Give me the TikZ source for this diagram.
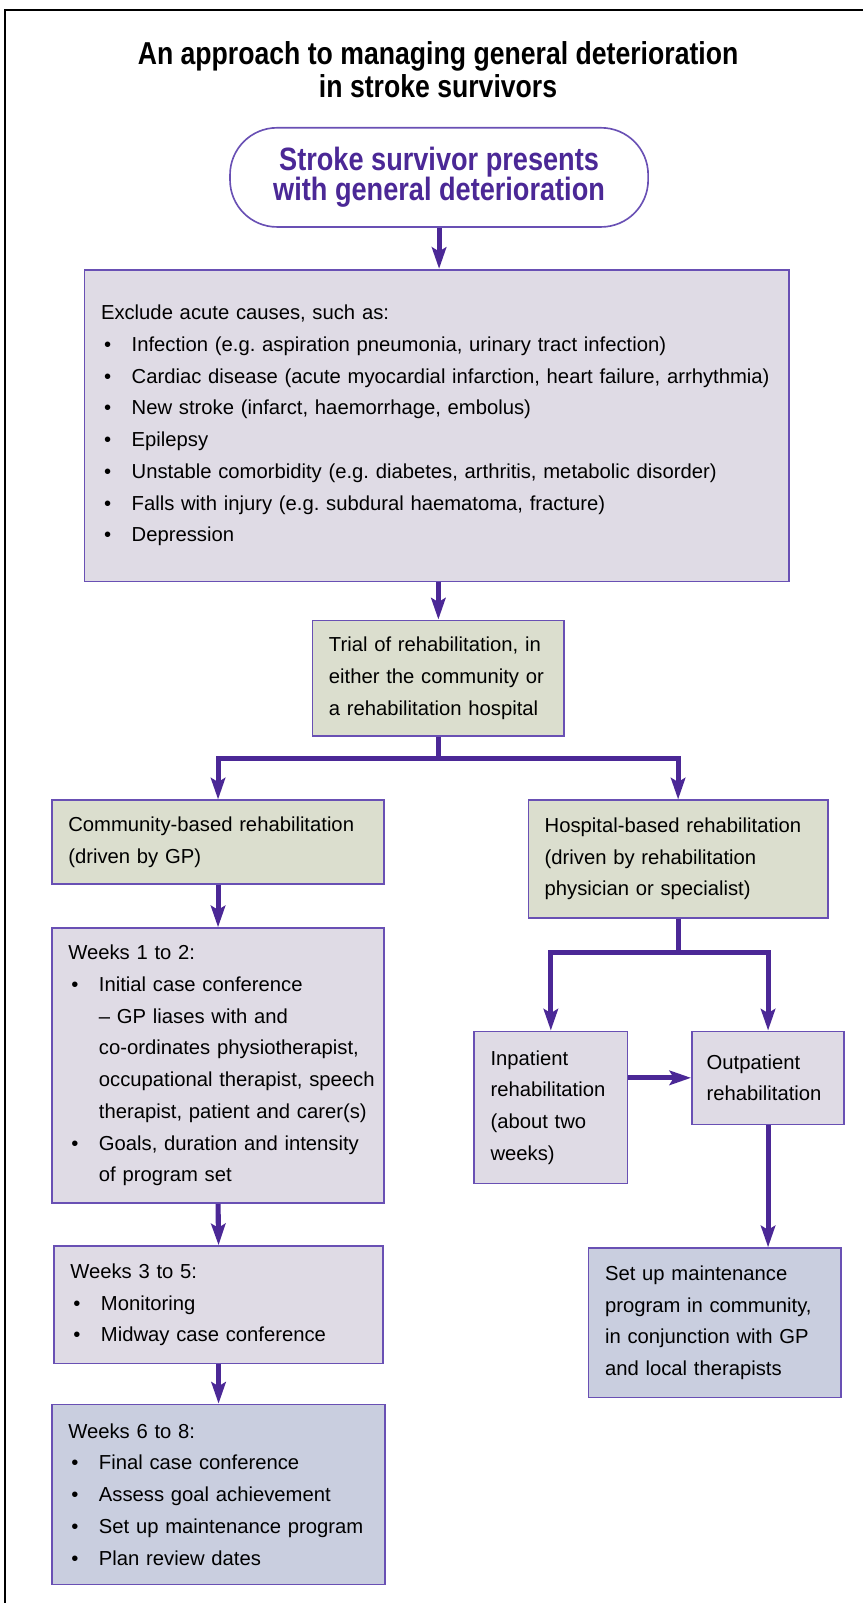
\documentclass[tikz,border=0pt]{standalone}
\usepackage{fontspec}
\setmainfont{Liberation Sans}
\newfontfamily\headfont[FakeStretch=0.84]{Liberation Sans}
\usetikzlibrary{arrows.meta}
\definecolor{purp}{RGB}{75,40,150}
\definecolor{edgepurp}{RGB}{105,80,180}
\definecolor{lilacfill}{RGB}{223,219,229}
\definecolor{sagefill}{RGB}{219,222,206}
\definecolor{slatefill}{RGB}{201,206,223}
\newcommand{\bul}{\makebox[15pt][l]{\hspace{1.5pt}\textbullet}}
\newcommand{\ind}{\hspace*{15pt}}

\begin{document}
\frenchspacing
\begin{tikzpicture}[x=0.5pt, y=-0.5pt, line join=miter,
	font=\fontsize{9.9}{15.5}\selectfont,
	box/.style={draw=edgepurp, line width=0.8pt, anchor=north west, align=left,
		inner xsep=8pt, inner ysep=0pt},
	lilac/.style={box, fill=lilacfill},
	sage/.style={box, fill=sagefill},
	slate/.style={box, fill=slatefill},
	flow/.style={draw=purp, line width=2.5pt,
		-{Stealth[length=10.5pt, width=7pt, inset=2pt]}},
	flowbar/.style={draw=purp, line width=2.5pt}]
\useasboundingbox (0,0) rectangle (844,1568);
% frame
\draw[line width=0.8pt] (844,10) -- (5,10) -- (5,1568);

%========================
% Heading and start
%========================
\node[font=\headfont\bfseries\fontsize{15.5}{16}\selectfont, align=center] (head) at (428.5,68)
	{An approach to managing general deterioration\\in stroke survivors};
\node[draw=edgepurp, line width=0.8pt, rounded corners=23pt, text=purp, align=center,
	minimum width=204.5pt, minimum height=48.5pt, inner sep=0pt,
	font=\headfont\bfseries\fontsize{15.8}{15}\selectfont] (start) at (429.5,173.5)
	{Stroke survivor presents\\with general deterioration};

% acute causes
\node[lilac, minimum width=344.5pt, minimum height=152.5pt, text width=328.5pt] (exclude) at (82,263)
	{Exclude acute causes, such as:\\
	\bul Infection (e.g. aspiration pneumonia, urinary tract infection)\\
	\bul Cardiac disease (acute myocardial infarction, heart failure, arrhythmia)\\
	\bul New stroke (infarct, haemorrhage, embolus)\\
	\bul Epilepsy\\
	\bul Unstable comorbidity (e.g. diabetes, arthritis, metabolic disorder)\\
	\bul Falls with injury (e.g. subdural haematoma, fracture)\\
	\bul Depression};

\node[sage, minimum width=123pt, minimum height=56.5pt, text width=107pt] (trial) at (305,606)
	{Trial of rehabilitation, in\\either the community or\\a rehabilitation hospital};

%========================
% Left: community branch
%========================
\node[sage, minimum width=162.5pt, minimum height=41pt, text width=146.5pt] (community) at (50,782)
	{Community-based rehabilitation\\(driven by GP)};
\node[lilac, minimum width=162.5pt, minimum height=134.5pt, text width=146.5pt] (wkone) at (50,907)
	{Weeks 1 to 2:\\
	\bul Initial case conference\\
	\ind -- GP liases with and\\
	\ind co-ordinates physiotherapist,\\
	\ind\mbox{occupational therapist, speech}\\
	\ind therapist, patient and carer(s)\\
	\bul Goals, duration and intensity\\
	\ind of program set};
\node[lilac, minimum width=161pt, minimum height=57.5pt, text width=145pt] (wkthree) at (52,1218)
	{Weeks 3 to 5:\\
	\bul Monitoring\\
	\bul Midway case conference};
\node[slate, minimum width=163pt, minimum height=88pt, text width=147pt] (wksix) at (50,1373)
	{Weeks 6 to 8:\\
	\bul Final case conference\\
	\bul Assess goal achievement\\
	\bul Set up maintenance program\\
	\bul Plan review dates};

%========================
% Right: hospital branch
%========================
\node[sage, minimum width=146.5pt, minimum height=57.5pt, text width=130.5pt] (hospital) at (516,782)
	{Hospital-based rehabilitation\\(driven by rehabilitation\\physician or specialist)};
\node[lilac, minimum width=75pt, minimum height=74.5pt, text width=59pt] (inpat) at (463,1008)
	{Inpatient\\rehabilitation\\(about two\\weeks)};
\node[lilac, minimum width=74.5pt, minimum height=45.5pt, text width=60pt, inner xsep=7pt] (outpat) at (676,1008)
	{Outpatient\\rehabilitation};
\node[slate, minimum width=123.5pt, minimum height=73pt, text width=107.5pt] (maint) at (575,1220)
	{Set up maintenance\\program in community,\\in conjunction with GP\\and local therapists};

%========================
% connectors
%========================
\draw[flow] (start.south) -- (start.south |- exclude.north);
\draw[flow] (exclude.south -| trial.north) -- (trial.north);
% split to the two settings
\draw[flowbar] (trial.south) -- ++(0,21) coordinate (split);
\draw[flow] (split) -| (community.north);
\draw[flow] (split) -| (hospital.north);
% community weeks
\draw[flow] (community.south) -- (wkone.north);
\draw[flow] (wkone.south) -- (wkthree.north);
\draw[flow] (wkthree.south) -- (wksix.north);
% hospital split
\draw[flowbar] (hospital.south) -- ++(0,33) coordinate (hsplit);
\draw[flow] (hsplit) -| (inpat.north);
\draw[flow] (hsplit) -| (outpat.north);
\draw[flow] (inpat.east |- outpat.west) -- (outpat.west);
\draw[flow] (outpat.south) -- (outpat.south |- maint.north);
\end{tikzpicture}
\end{document}
